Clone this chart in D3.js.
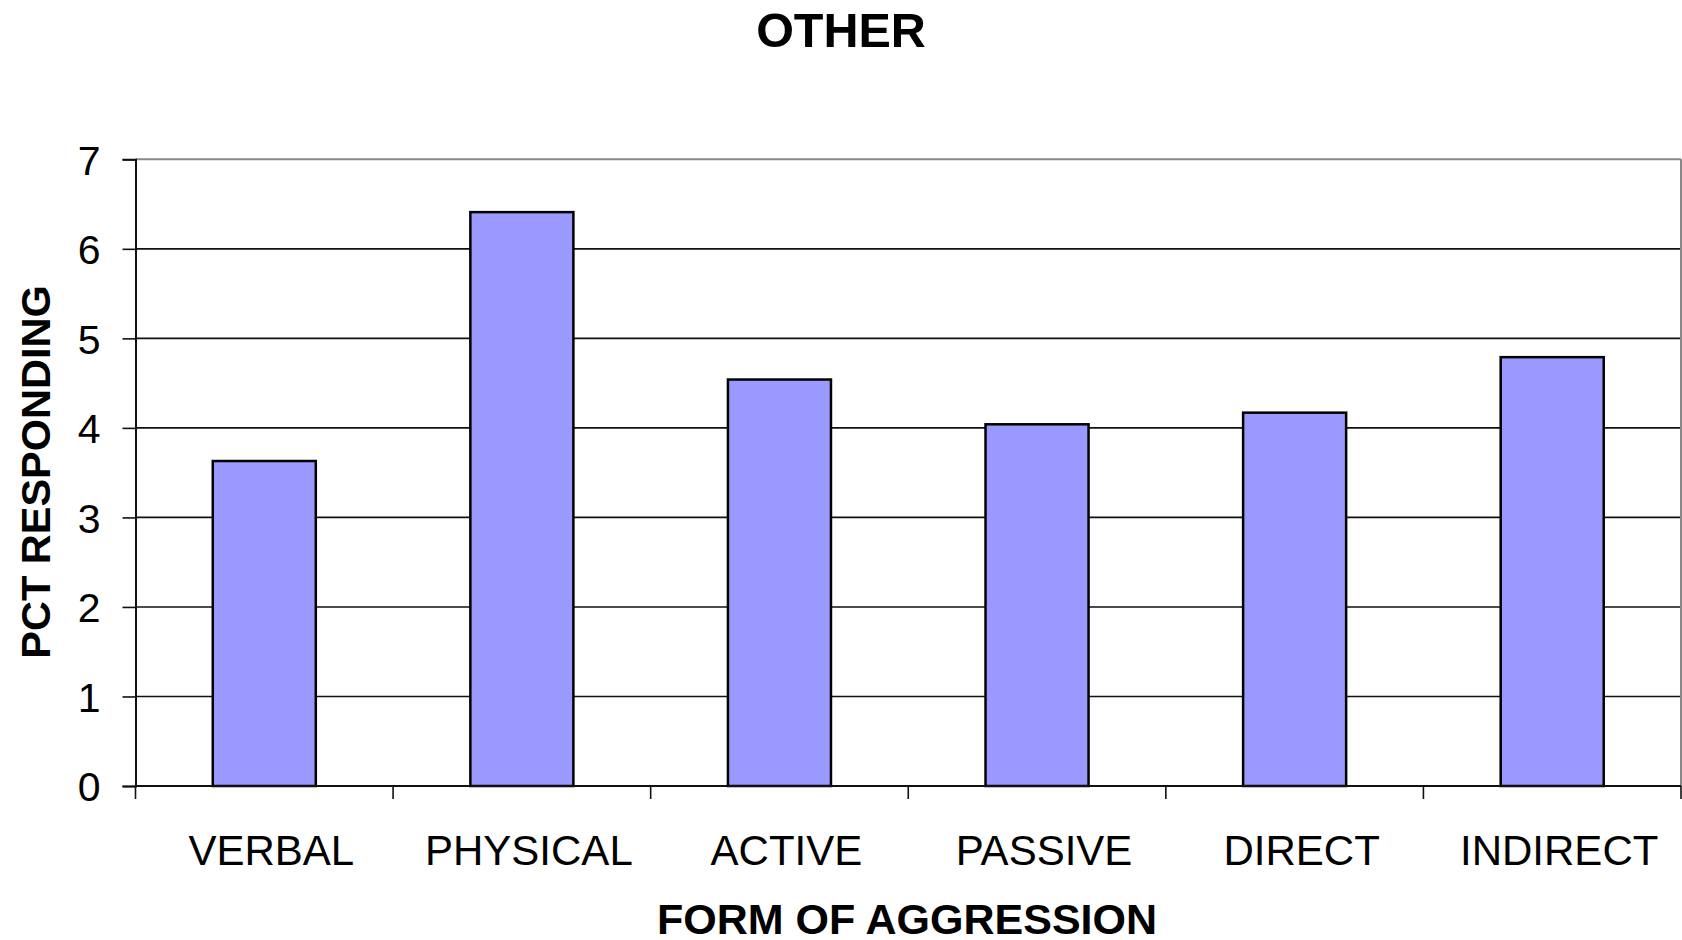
<!DOCTYPE html>
<html>
<head>
<meta charset="utf-8">
<script src="https://cdn.jsdelivr.net/npm/d3@7"></script>
<style>
  html, body { margin: 0; padding: 0; background: #fff; }
  svg { display: block; font-family: "Liberation Sans", Arial, sans-serif; }
</style>
</head>
<body>
<svg id="chart" width="1682" height="940"></svg>
<script>
const categories = ["VERBAL", "PHYSICAL", "ACTIVE", "PASSIVE", "DIRECT", "INDIRECT"];
const values = [3.63, 6.41, 4.54, 4.04, 4.17, 4.79];
const yTicks = [0, 1, 2, 3, 4, 5, 6, 7];
const chartTitle = "OTHER";
const xTitle = "FORM OF AGGRESSION";
const yTitle = "PCT RESPONDING";

(function () {
const svg = d3.select("#chart");
const pLeft = 135.5, pRight = 1681, pTop = 159.3, pBottom = 786;

const x = d3.scaleBand().domain(categories).range([pLeft, pRight]).paddingInner(0.6).paddingOuter(0.3);
const xb = d3.scaleBand().domain(categories).range([pLeft, pRight]).padding(0);
const y = d3.scaleLinear().domain([0, 7]).range([pBottom, pTop]);

// gridlines
svg.append("g").selectAll("line").data(yTicks.filter(d => d > 0 && d < 7)).join("line")
  .attr("x1", pLeft).attr("x2", pRight)
  .attr("y1", d => y(d)).attr("y2", d => y(d))
  .attr("stroke", "#111").attr("stroke-width", 1.6);

// top & right frame
svg.append("line").attr("x1", pLeft).attr("x2", pRight).attr("y1", y(7)).attr("y2", y(7))
  .attr("stroke", "#888").attr("stroke-width", 2);
svg.append("line").attr("x1", pRight).attr("x2", pRight).attr("y1", y(7)).attr("y2", y(0))
  .attr("stroke", "#888").attr("stroke-width", 2);

// bars
svg.append("g").selectAll("rect").data(categories).join("rect")
  .attr("x", d => x(d))
  .attr("y", (d, i) => y(values[i]))
  .attr("width", x.bandwidth())
  .attr("height", (d, i) => y(0) - y(values[i]))
  .attr("fill", "#9999FF")
  .attr("stroke", "#000")
  .attr("stroke-width", 2.5);

// y axis
const yAxis = d3.axisLeft(y).tickValues(yTicks).tickSize(13).tickPadding(22).tickFormat(d3.format("d"));
const gy = svg.append("g").attr("transform", `translate(${pLeft},0)`).call(yAxis);
gy.select(".domain").attr("stroke", "#111").attr("stroke-width", 2);
gy.selectAll(".tick line").attr("stroke", "#111").attr("stroke-width", 1.6);
gy.selectAll(".tick text").attr("font-size", 41).attr("fill", "#000")
  .attr("font-family", "'Liberation Sans', Arial, sans-serif").attr("dy", "0.36em");

// x axis line
svg.append("line").attr("x1", pLeft).attr("x2", pRight).attr("y1", pBottom).attr("y2", pBottom)
  .attr("stroke", "#111").attr("stroke-width", 2);
// x boundary ticks
const bounds = categories.map(c => xb(c)).concat([pRight]);
svg.append("g").selectAll("line").data(bounds).join("line")
  .attr("x1", d => d).attr("x2", d => d).attr("y1", pBottom).attr("y2", pBottom + 13)
  .attr("stroke", "#111").attr("stroke-width", 1.6);
// x labels
svg.append("g").selectAll("text").data(categories).join("text")
  .attr("x", d => x(d) + x.bandwidth() / 2 + 7)
  .attr("y", 865)
  .attr("text-anchor", "middle")
  .attr("font-size", 42)
  .attr("fill", "#000")
  .text(d => d);

// titles
svg.append("text").attr("x", 841).attr("y", 46.5).attr("text-anchor", "middle")
  .attr("font-size", 48.5).attr("font-weight", "bold").text(chartTitle);
svg.append("text").attr("x", 907).attr("y", 934).attr("text-anchor", "middle")
  .attr("font-size", 43).attr("font-weight", "bold").text(xTitle);
svg.append("text").attr("transform", "translate(50,472) rotate(-90)").attr("text-anchor", "middle")
  .attr("font-size", 41.5).attr("font-weight", "bold").text(yTitle);
})();
</script>
</body>
</html>
